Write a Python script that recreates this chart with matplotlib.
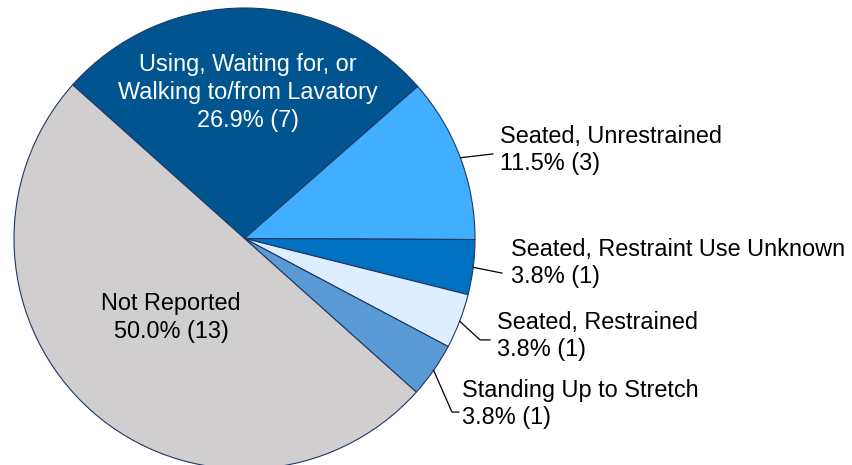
import numpy as np
import matplotlib.pyplot as plt

plt.rcParams['font.family'] = ['Liberation Sans', 'DejaVu Sans']

# data
names = ['Using, Waiting for, or\nWalking to/from Lavatory', 'Seated, Unrestrained',
         'Seated, Restraint Use Unknown', 'Seated, Restrained',
         'Standing Up to Stretch', 'Not Reported']
counts = [7, 3, 1, 1, 1, 13]
colors = ['#00548F', '#42AEFF', '#0070C0', '#DCEEFF', '#5B9BD5', '#D0CECE']

total = sum(counts)
pcts = [100.0 * c / total for c in counts]

fig = plt.figure(figsize=(8.53, 4.65), dpi=100)
# pie center ~ (244.5, 238.5) px, radius 230.5 px
ax = fig.add_axes([14 / 853, (465 - 469) / 465, 461 / 853, 461 / 465])
wedges, _ = ax.pie(counts, colors=colors, startangle=138.2, counterclock=False,
                   radius=1.0, wedgeprops=dict(edgecolor='#1F3864', linewidth=0.8))
ax.set_xlim(-1, 1)
ax.set_ylim(-1, 1)
ax.set_aspect('equal')
ax.axis('off')

fs = 16.9
ls = 1.27
lbl = ['%s\n%.1f%% (%d)' % (n, p, c) for n, p, c in zip(names, pcts, counts)]

# inside labels
ax.text(0.015, 0.632, lbl[0], ha='center', va='center', color='white',
        fontsize=fs, linespacing=ls)
ax.text(-0.319, -0.341, lbl[5], ha='center',
        va='center', color='black', fontsize=fs, linespacing=ls)

# outside labels: text pos, leader points after the wedge edge
outside = {
    1: ((1.107, 0.384), [(1.078, 0.367)]),
    2: ((1.156, -0.106), [(1.117, -0.150)]),
    3: ((1.095, -0.423), [(1.022, -0.440), (1.065, -0.440)]),
    4: ((0.944, -0.718), [(0.900, -0.753), (0.930, -0.753)]),
}
for i, (tpos, pts) in outside.items():
    w = wedges[i]
    mid = np.deg2rad((w.theta1 + w.theta2) / 2)
    xs = [np.cos(mid)] + [p[0] for p in pts]
    ys = [np.sin(mid)] + [p[1] for p in pts]
    ax.plot(xs, ys, color='black', linewidth=0.9, clip_on=False)
    ax.text(tpos[0], tpos[1], lbl[i], ha='left', va='center', color='black',
            fontsize=fs, linespacing=ls, clip_on=False)

fig.savefig('out.png', dpi=100)
